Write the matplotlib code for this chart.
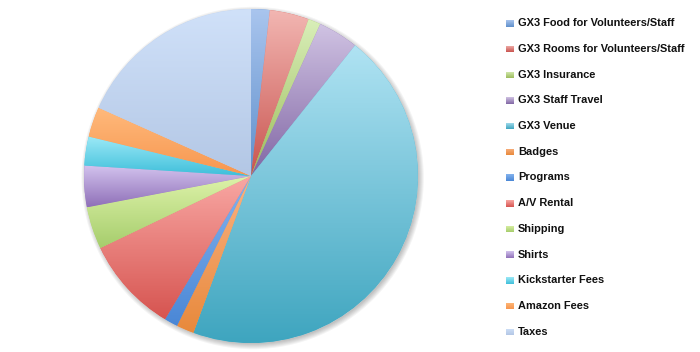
import numpy as np
import matplotlib
matplotlib.use('Agg')
import matplotlib.pyplot as plt
import matplotlib.patches as patches
from matplotlib.colors import to_rgb

# 데이터
labels = ['GX3 Food for Volunteers/Staff', 'GX3 Rooms for Volunteers/Staff', 'GX3 Insurance',
          'GX3 Staff Travel', 'GX3 Venue', 'Badges', 'Programs', 'A/V Rental', 'Shipping',
          'Shirts', 'Kickstarter Fees', 'Amazon Fees', 'Taxes']
values = [1.8, 3.8, 1.2, 3.9, 44.9, 1.7, 1.3, 9.3, 4.1, 4.0, 2.8, 2.9, 18.3]

# 그라데이션 색상 (위 -> 아래)
top_colors = ['#a9c5ee', '#f2b6b2', '#d9efb9', '#d0c3e3', '#b0e3f3', '#f9b283', '#84b3ee',
              '#f9a8a4', '#def3aa', '#d3c3ee', '#9de9f7', '#ffba7c', '#d0e1f9']
bottom_colors = ['#5f8fcb', '#c9544f', '#9cbb5b', '#8166a4', '#3ea5bf', '#e8893b', '#4a87d6',
                 '#d65450', '#a6cd6c', '#8f70b8', '#3ebfda', '#f7964f', '#b3c7e5']

W, H = 700, 352
cx, cy, R = 251, 176, 167
pad = 1.06  # 축 여백 (그림자 잘림 방지)

fig = plt.figure(figsize=(W / 100, H / 100), dpi=100)
ax = fig.add_axes([(cx - R * pad) / W, (H - cy - R * pad) / H, 2 * R * pad / W, 2 * R * pad / H])


def gradient(c1, c2, n=256):
    a = np.array(to_rgb(c1))
    b = np.array(to_rgb(c2))
    t = np.linspace(0, 1, n)[:, None]
    return (a * (1 - t) + b * t)[:, None, :]


# 가장자리 그림자
for k in range(6):
    ax.add_patch(patches.Circle((0.01, -0.012), 0.995 + 0.006 * k, color='#000000',
                                alpha=0.045, lw=0, zorder=0))
ax.add_patch(patches.Circle((0, 0), 1.0, color='white', lw=0, zorder=0.5))

wedges, _ = ax.pie(values, startangle=90, counterclock=False, radius=1,
                   colors=bottom_colors, wedgeprops=dict(linewidth=0))

for w, c1, c2 in zip(wedges, top_colors, bottom_colors):
    w.set_zorder(1)
    bb = w.get_path().get_extents()
    im = ax.imshow(gradient(c1, c2), extent=[bb.x0, bb.x1, bb.y0, bb.y1],
                   aspect='auto', interpolation='bilinear', zorder=2)
    im.set_clip_path(w)

ax.set_xlim(-pad, pad)
ax.set_ylim(-pad, pad)
ax.set_aspect('equal')
ax.axis('off')

# 범례
for i, (lab, c1, c2) in enumerate(zip(labels, top_colors, bottom_colors)):
    y = 23.3 + i * 25.7
    sq = fig.add_axes([506 / W, (H - y - 3.3) / H, 7.5 / W, 6.5 / H])
    sq.imshow(gradient(c1, c2), aspect='auto', interpolation='bilinear')
    sq.axis('off')
    fig.text(518 / W, (H - y) / H, lab, fontsize=7.9, fontweight='bold',
             family=['Liberation Sans'], va='center', ha='left', color='#111111')

fig.savefig('out.png', dpi=100)
